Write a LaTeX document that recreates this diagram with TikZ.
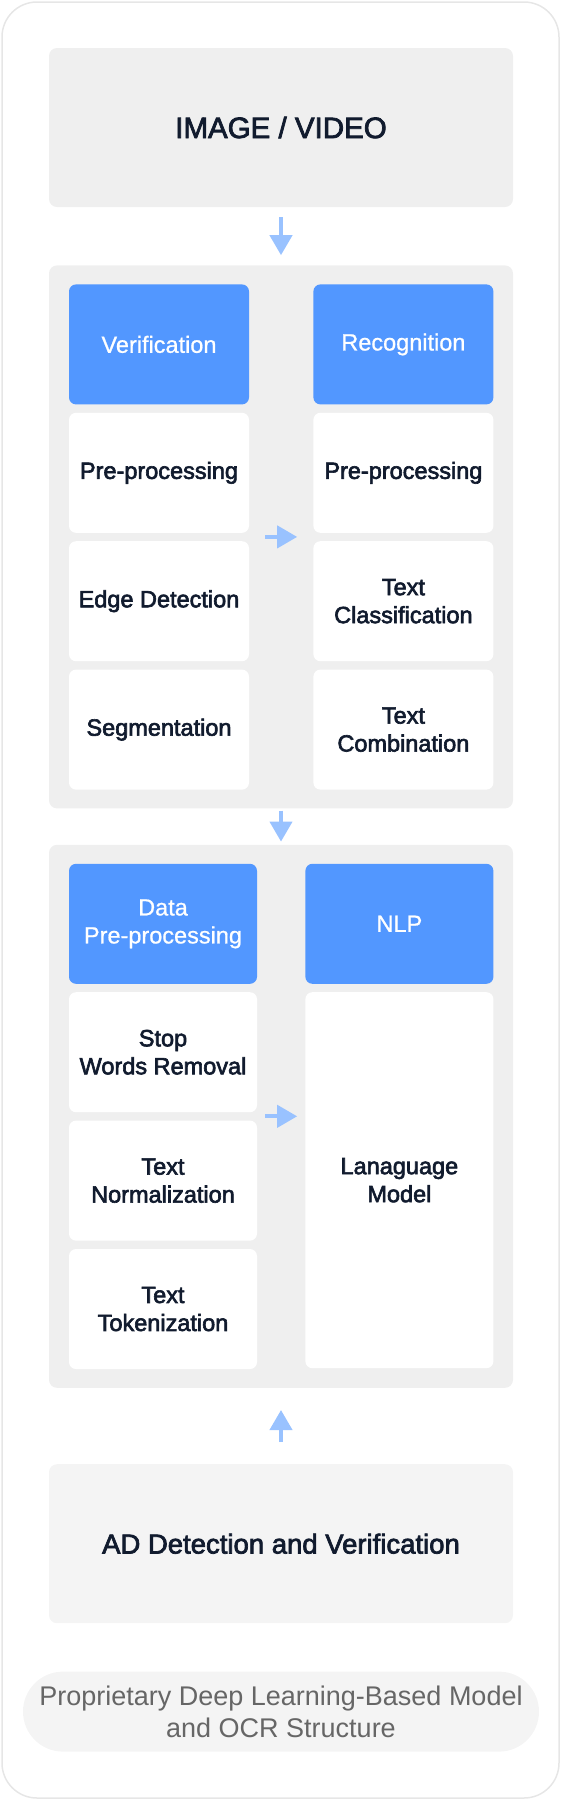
\documentclass[tikz,border=0pt]{standalone}
\usepackage{fontspec}
\setmainfont{Liberation Sans}
\newfontfamily\medfont{Liberation Sans}[FakeBold=2.6]
\newfontfamily\lightfont{Liberation Sans}[FakeBold=0.8]
\usepackage{xcolor}
\definecolor{inkDark}{HTML}{111B2E}
\definecolor{flowBlue}{HTML}{5297FF}
\definecolor{arrowBlue}{HTML}{99C2FF}
\definecolor{panelGray}{HTML}{EFEFEF}
\definecolor{softGray}{HTML}{F4F4F4}
\definecolor{frameGray}{HTML}{E6E6E6}
\definecolor{noteGray}{HTML}{666666}
\usetikzlibrary{positioning,calc,arrows.meta}
\tikzset{%
  frameLine/.style={%
    draw=frameGray,
    line width=1.5pt,
    rounded corners=35pt
  },
  sourceBox/.style={%
    rectangle,
    rounded corners=8pt,
    fill=#1,
    inner sep=0pt,
    minimum width=464pt,
    minimum height=159pt,
    align=center,
    text=inkDark,
    font=\medfont\fontsize{27.5}{32}\selectfont
  },
  panelBox/.style={%
    rectangle,
    rounded corners=8pt,
    fill=panelGray,
    inner sep=0pt,
    minimum width=464pt,
    minimum height=543pt
  },
  headBox/.style={%
    rectangle,
    rounded corners=7pt,
    fill=flowBlue,
    inner sep=0pt,
    minimum width=#1,
    minimum height=120pt,
    align=center,
    text=white,
    font=\lightfont\fontsize{23.5}{28}\selectfont
  },
  itemBox/.style={%
    rectangle,
    rounded corners=7pt,
    fill=white,
    inner sep=0pt,
    minimum width=#1,
    minimum height=120pt,
    align=center,
    text=inkDark,
    font=\medfont\fontsize{23.5}{28}\selectfont
  },
  noteBox/.style={%
    rectangle,
    rounded corners=40pt,
    fill=softGray,
    inner sep=0pt,
    minimum width=516pt,
    minimum height=80pt,
    align=center,
    text=noteGray,
    font=\fontsize{27}{31.7}\selectfont
  },
  flowArrow/.style={%
    -{Triangle[length=20pt,width=22pt]},
    line width=4pt,
    color=arrowBlue
  }
}

\begin{document}
\begin{tikzpicture}[x=1pt,y=1pt,node distance=8pt]
  \useasboundingbox (0,0) rectangle (561,-1800);
  \draw[frameLine] (2,-2) rectangle (559,-1798);

  \node[sourceBox=panelGray, font=\medfont\fontsize{29.5}{34}\selectfont] (src) at (281,-127.5) {IMAGE / VIDEO};

  % OCR stage
  \node[panelBox, below=58pt of src] (ocrPanel) {};
  \node[headBox=180pt, below right=19pt and 20pt of ocrPanel.north west] (verif) {Verification};
  \node[itemBox=180pt, below=of verif] (vPre) {Pre-processing};
  \node[itemBox=180pt, below=of vPre] (vEdge) {Edge Detection};
  \node[itemBox=180pt, below=of vEdge] (vSeg) {Segmentation};
  \node[headBox=180pt, right=64pt of verif] (recog) {Recognition};
  \node[itemBox=180pt, below=of recog] (rPre) {Pre-processing};
  \node[itemBox=180pt, below=of rPre] (rClass) {Text\\Classification};
  \node[itemBox=180pt, below=of rClass] (rComb) {Text\\Combination};

  % NLP stage
  \node[panelBox, below=36pt of ocrPanel] (nlpPanel) {};
  \node[headBox=188pt, below right=19pt and 20pt of nlpPanel.north west] (dataPre) {Data\\Pre-processing};
  \node[itemBox=188pt, below=of dataPre] (dStop) {Stop\\Words Removal};
  \node[itemBox=188pt, below=of dStop] (dNorm) {Text\\Normalization};
  \node[itemBox=188pt, below=of dNorm] (dToken) {Text\\Tokenization};
  \node[headBox=188pt, right=48pt of dataPre] (nlp) {NLP};
  \node[itemBox=188pt, minimum height=376pt, below=of nlp] (langModel) {Lanaguage\\Model};

  \node[sourceBox=softGray, below=76pt of nlpPanel] (adBox) {AD Detection and Verification};
  \node[noteBox, below=48pt of adBox] (note) {Proprietary Deep Learning-Based Model\\and OCR Structure};

  \draw[flowArrow, shorten <=10pt, shorten >=10pt] (src) -- (ocrPanel);
  \draw[flowArrow, shorten <=16pt, shorten >=16pt] (ocrPanel.center -| vPre.east) -- (ocrPanel.center -| rPre.west);
  \draw[flowArrow, shorten <=2pt, shorten >=3pt] (ocrPanel) -- (nlpPanel);
  \draw[flowArrow, shorten <=8pt, shorten >=8pt] (nlpPanel.center -| dStop.east) -- (nlpPanel.center -| langModel.west);
  \draw[flowArrow, shorten <=22pt, shorten >=22pt] (adBox) -- (nlpPanel);
\end{tikzpicture}
\end{document}
